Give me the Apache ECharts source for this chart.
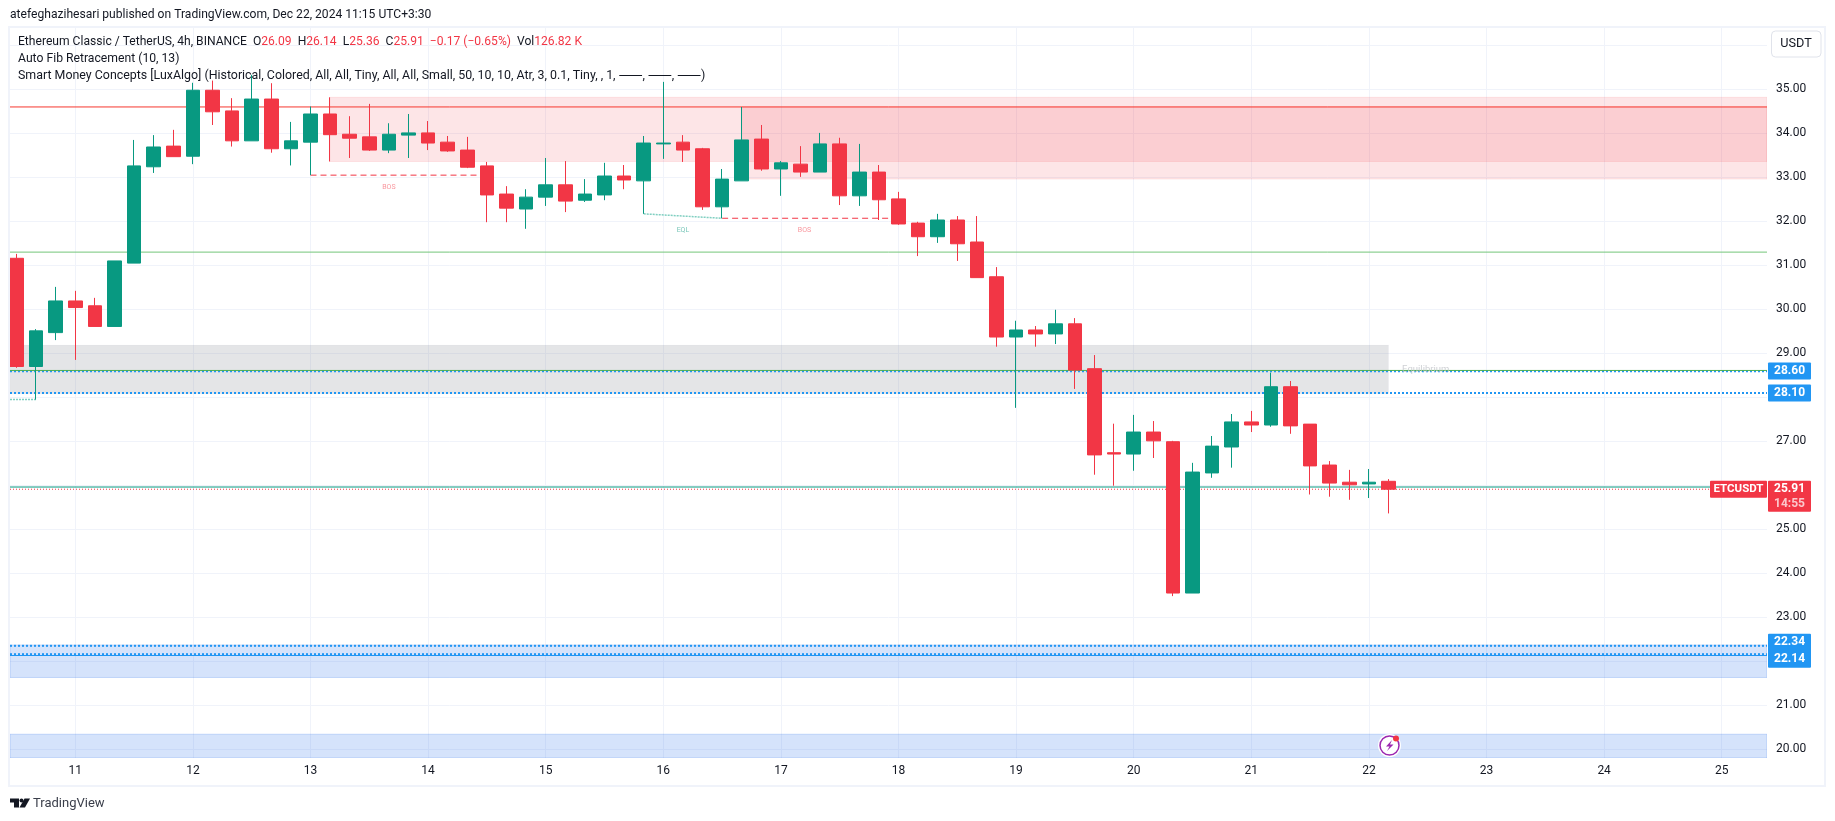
<!DOCTYPE html>
<html><head><meta charset="utf-8"><title>ETCUSDT</title>
<style>html,body{margin:0;padding:0;background:#fff}#c{width:1835px;height:821px}</style>
<script src="https://cdn.jsdelivr.net/npm/echarts@6/dist/echarts.min.js"></script></head>
<body><div id="c"></div>
<script>
const opens  = [31.16,28.70,29.47,30.19,30.08,29.61,31.05,33.24,33.71,33.48,34.98,34.51,33.83,34.78,33.65,33.80,34.44,33.98,33.92,33.62,33.96,34.01,33.80,33.62,33.26,32.62,32.28,32.55,32.83,32.48,32.60,33.03,32.92,33.76,33.80,33.65,32.33,32.92,33.87,33.19,33.30,33.12,33.76,32.58,33.12,32.51,31.96,31.65,32.03,31.53,30.74,29.37,29.53,29.44,29.67,28.65,26.74,26.71,27.21,26.99,23.55,26.28,26.87,27.44,27.37,28.24,27.39,26.46,26.07,26.03,26.09];
const closes = [28.70,29.51,30.19,30.04,29.61,31.10,33.26,33.69,33.47,34.98,34.49,33.83,34.78,33.65,33.83,34.44,33.97,33.89,33.62,33.98,34.01,33.78,33.60,33.23,32.60,32.30,32.55,32.83,32.46,32.62,33.03,32.94,33.78,33.78,33.62,32.33,32.96,33.85,33.19,33.33,33.12,33.76,32.58,33.12,32.49,31.94,31.65,32.03,31.49,30.72,29.37,29.53,29.44,29.67,28.62,26.69,26.71,27.21,27.01,23.55,26.30,26.89,27.44,27.37,28.24,27.35,26.44,26.05,26.01,26.07,25.91];
const highs  = [31.26,29.55,30.51,30.42,30.26,31.10,33.85,33.96,34.08,35.15,35.20,34.80,35.33,35.14,34.26,34.61,34.82,34.39,34.67,34.23,34.44,34.28,33.94,33.92,33.35,32.80,32.73,33.44,33.37,32.96,33.33,33.28,33.94,35.17,33.96,33.67,33.19,34.60,34.19,33.37,33.71,34.01,33.90,33.76,33.28,32.67,31.99,32.17,32.12,32.12,30.96,29.74,29.62,29.99,29.80,28.96,27.40,27.60,27.46,27.01,26.51,27.12,27.62,27.69,28.56,28.37,27.39,26.55,26.35,26.37,26.14];
const lows   = [28.67,27.95,29.30,28.85,29.61,29.61,31.05,33.10,33.47,33.30,34.19,33.70,33.83,33.56,33.27,33.05,33.36,33.44,33.60,33.55,33.44,33.62,33.58,33.21,31.98,31.98,31.83,32.35,32.21,32.44,32.48,32.73,32.17,33.42,33.35,32.26,32.07,32.92,33.15,32.58,33.01,33.12,32.37,32.35,32.03,31.92,31.21,31.51,31.10,30.72,29.15,27.76,29.15,29.21,28.19,26.24,25.99,26.33,26.62,23.48,23.55,26.17,26.40,27.21,27.33,27.17,25.79,25.74,25.67,25.71,25.36];

const dayBars   = [3,9,15,21,27,33,39,45,51,57,63,69,75,81,87];
const dayLabels = ['11','12','13','14','15','16','17','18','19','20','21','22','23','24','25'];
const gridPrices  = [20,21,22,23,24,25,26,27,28,29,30,31,32,33,34,35,36];
const labelPrices = [20,21,23,24,25,27,29,30,31,32,33,34,35];

const xMin = -0.332, xMax = 89.31, yMin = 19.8, yMax = 36.395;

// zones: [x0, x1, priceTop, priceBottom]
const redZones  = [[16,xMax,34.82,33.36],[37,xMax,34.60,32.96]];
const grayZones = [[xMin,70,29.19,28.08]];
const blueZones = [[xMin,xMax,22.37,21.63],[xMin,xMax,20.34,19.8]];

// levels: [x0, price0, x1, price1]
const redLevel     = [[xMin,34.60,xMax,34.60]];
const greenLevels  = [[xMin,31.30,xMax,31.30]];
const eqGreen      = [[xMin,28.61,xMax,28.61]];
const blueDotted   = [[xMin,28.59,xMax,28.59],[xMin,28.10,xMax,28.10],[xMin,22.35,xMax,22.35],[xMin,22.16,xMax,22.16]];
const blueSolid    = [[xMin,22.13,xMax,22.13]];
const tealLast     = [[xMin,25.96,xMax,25.96]];
const redLast      = [[xMin,25.91,xMax,25.91]];
const bosLines     = [[15,33.05,24,33.05],[36,32.07,45,32.07]];
const eqlLines     = [[xMin,27.95,1,27.95],[32,32.17,36,32.07]];

// small chart notes: [x, price, text]
const bosNotes = [[19,32.77,'BOS'],[40.2,31.80,'BOS']];
const eqlNotes = [[34.0,31.80,'EQL']];
const eqNotes  = [[71.9,28.62,'Equilibrium']];

// price scale tags: [price, text, height]
const priceTags = [[28.60,'28.60',17],[28.10,'28.10',17],[22.24,'22.34\n22.14',34]];
const lastPrice = 25.91, lastCountdown = '14:55', ticker = 'ETCUSDT';

const UP='#089981', DOWN='#f23645', GRID='#f0f3fa', INK='#131722';
const FONT='Roboto, "Noto Sans", sans-serif';

function lineSeries(rows,color,width,type,z){
  return rows.map(r=>({type:'line',silent:true,symbol:'none',z:z||2,animation:false,
    data:[[r[0],r[1]],[r[2],r[3]]],lineStyle:{color,width,type}}));
}
function zoneSeries(rows,fill,stroke){
  return {type:'custom',silent:true,z:1,clip:true,animation:false,data:rows,
    encode:{x:[0,1],y:[2,3]},
    renderItem(p,api){
      const a=api.coord([api.value(0),api.value(2)]), b=api.coord([api.value(1),api.value(3)]);
      return {type:'rect',shape:{x:a[0],y:a[1],width:b[0]-a[0],height:b[1]-a[1]},
        style:{fill,stroke,lineWidth:1}};
    }};
}
function noteSeries(rows,color,size){
  return {type:'scatter',silent:true,symbolSize:0,z:6,animation:false,
    data:rows.map(r=>({value:[r[0],r[1]],label:{formatter:r[2]}})),
    label:{show:true,position:'inside',fontSize:size,fontFamily:FONT,color}};
}
const tagSeries={type:'custom',silent:true,z:9,clip:false,animation:false,
  data:priceTags.map((t,i)=>[xMax,t[0],i]),
  encode:{x:0,y:1},
  renderItem(p,api){
    const t=priceTags[api.value(2)], c=api.coord([xMax,t[0]]);
    return {type:'group',children:[
      {type:'rect',shape:{x:c[0]+1,y:c[1]-t[2]/2,width:43,height:t[2],r:1},style:{fill:'#2196f3'}},
      {type:'text',style:{x:c[0]+22.5,y:c[1],text:t[1],align:'center',verticalAlign:'middle',fill:'#fff',
        font:'bold 12px '+FONT,lineHeight:17}}]};
  }};
const lastSeries={type:'custom',silent:true,z:9,clip:false,animation:false,
  data:[[xMax,lastPrice]],encode:{x:0,y:1},
  renderItem(p,api){
    const c=api.coord([xMax,lastPrice]), y=c[1]-8.5;
    return {type:'group',children:[
      {type:'rect',shape:{x:c[0]+1,y,width:43,height:31,r:1},style:{fill:DOWN}},
      {type:'text',style:{x:c[0]+22.5,y:y+8.5,text:lastPrice.toFixed(2),align:'center',verticalAlign:'middle',fill:'#fff',font:'bold 12px '+FONT}},
      {type:'text',style:{x:c[0]+22.5,y:y+23,text:lastCountdown,align:'center',verticalAlign:'middle',fill:'#fbc7cb',font:'bold 12px '+FONT}},
      {type:'rect',shape:{x:c[0]-57,y,width:57,height:17,r:1},style:{fill:DOWN}},
      {type:'text',style:{x:c[0]-28.5,y:y+8.5,text:ticker,align:'center',verticalAlign:'middle',fill:'#fff',font:'bold 11.5px '+FONT}}]};
  }};

const legend1='Ethereum Classic / TetherUS, 4h, BINANCE  O{r|26.09}  H{r|26.14}  L{r|25.36}  C{r|25.91}  {r|−0.17 (−0.65%)}  Vol{r|126.82 K}';
const legend2='Auto Fib Retracement (10, 13)';
const legend3='Smart Money Concepts [LuxAlgo] (Historical, Colored, All, All, Tiny, All, All, Small, 50, 10, 10, Atr, 3, 0.1, Tiny, , 1, ⸺, ⸺, ⸺)';
const published='atefeghazihesari published on TradingView.com, Dec 22, 2024 11:15 UTC+3:30';

const chart=echarts.init(document.getElementById('c'),null,{renderer:'canvas'});
chart.setOption({
  animation:false,backgroundColor:'#fff',
  grid:{left:10,right:68,top:28,bottom:63,containLabel:false},
  xAxis:{type:'value',min:xMin,max:xMax,
    axisLine:{show:false},
    axisTick:{show:false,customValues:dayBars},
    splitLine:{show:true,lineStyle:{color:GRID,width:1}},
    axisLabel:{customValues:dayBars,margin:7,fontSize:12,fontFamily:FONT,color:INK,
      formatter:v=>dayLabels[dayBars.indexOf(v)]||''}},
  yAxis:{type:'value',position:'right',min:yMin,max:yMax,
    axisLine:{show:false},
    axisTick:{show:false,customValues:gridPrices},
    splitLine:{show:true,lineStyle:{color:GRID,width:1}},
    axisLabel:{customValues:labelPrices,margin:9,fontSize:12,fontFamily:FONT,color:INK,align:'left',
      formatter:v=>v.toFixed(2)}},
  series:[
    zoneSeries(grayZones,'rgba(120,123,134,0.2)','rgba(120,123,134,0.02)'),
    zoneSeries(redZones,'rgba(242,54,69,0.13)','rgba(242,54,69,0.1)'),
    zoneSeries(blueZones,'rgba(45,115,235,0.2)','rgba(45,115,235,0.22)'),
    ...lineSeries(redLevel,'#f7372e',1,'solid'),
    ...lineSeries(greenLevels,'#74c67a',1,'solid'),
    ...lineSeries(blueDotted,'#2196f3',2,[2,2]),
    ...lineSeries(eqGreen,'#4caf50',1,'solid'),
    ...lineSeries(blueSolid,'#2196f3',1,'solid'),
    ...lineSeries(tealLast,UP,1,'solid'),
    ...lineSeries(redLast,DOWN,1,[1,2]),
    ...lineSeries(bosLines,DOWN,1,[6,4]),
    ...lineSeries(eqlLines,'#80cfc1',1.5,[2,1]),
    {type:'candlestick',z:4,animation:false,silent:true,barWidth:14,clip:true,
      encode:{x:0,y:[1,2,3,4]},
      data:opens.map((o,i)=>[i,o,closes[i],lows[i],highs[i]]),
      itemStyle:{color:UP,color0:DOWN,borderColor:UP,borderColor0:DOWN,borderWidth:1}},
    noteSeries(bosNotes,'#f77c85',7),
    noteSeries(eqlNotes,'#55b8a6',7),
    noteSeries(eqNotes,'#c3c5ca',9.5),
    tagSeries,lastSeries
  ],
  graphic:[
    {type:'rect',silent:true,z:20,shape:{x:9,y:27,width:1816,height:759},style:{fill:'none',stroke:GRID,lineWidth:2}},
    {type:'text',silent:true,z:30,x:10,y:15,style:{text:published,fill:INK,font:'12.1px '+FONT,verticalAlign:'middle'}},
    {type:'text',silent:true,z:30,x:18,y:42,style:{text:legend1,font:'12.1px '+FONT,fill:INK,verticalAlign:'middle',
      rich:{r:{fill:DOWN,font:'12.1px '+FONT}}}},
    {type:'text',silent:true,z:30,x:18,y:59,style:{text:legend2,font:'12.2px '+FONT,fill:INK,verticalAlign:'middle'}},
    {type:'text',silent:true,z:30,x:18,y:76,style:{text:legend3,font:'12.4px '+FONT,fill:INK,verticalAlign:'middle'}},
    {type:'rect',silent:true,z:30,shape:{x:1771.5,y:31,width:49.5,height:26,r:4},style:{fill:'#fff',stroke:'#e0e3eb',lineWidth:1}},
    {type:'text',silent:true,z:31,x:1796,y:44,style:{text:'USDT',font:'12.7px '+FONT,fill:INK,align:'center',verticalAlign:'middle'}},
    {type:'polygon',silent:true,z:30,shape:{points:[[10,798.5],[19,798.5],[19,807.5],[14,807.5],[14,802.5],[10,802.5]]},style:{fill:'#131722'}},
    {type:'polygon',silent:true,z:30,shape:{points:[[24.5,798.5],[30,798.5],[25,807.5],[19.5,807.5]]},style:{fill:'#131722'}},
    {type:'circle',silent:true,z:30,shape:{cx:21.5,cy:800.5,r:2},style:{fill:'#131722'}},
    {type:'text',silent:true,z:30,x:33,y:803.5,style:{text:'TradingView',font:'13px '+FONT,fill:'#3a3e4a',verticalAlign:'middle'}},
    {type:'circle',silent:true,z:30,shape:{cx:1389.5,cy:745.5,r:11.5},style:{fill:'#fff'}},
    {type:'circle',silent:true,z:31,shape:{cx:1389.5,cy:745.5,r:9.5},style:{fill:'#fff',stroke:'#9c27b0',lineWidth:1.5}},
    {type:'polygon',silent:true,z:32,shape:{points:[[1392,740],[1386,746.5],[1389.5,746.5],[1387,751],[1393.5,744.5],[1390,744.5]]},style:{fill:'#9c27b0'}},
    {type:'circle',silent:true,z:33,shape:{cx:1396,cy:738.5,r:3},style:{fill:'#f23645'}}
  ]
});
</script></body></html>
